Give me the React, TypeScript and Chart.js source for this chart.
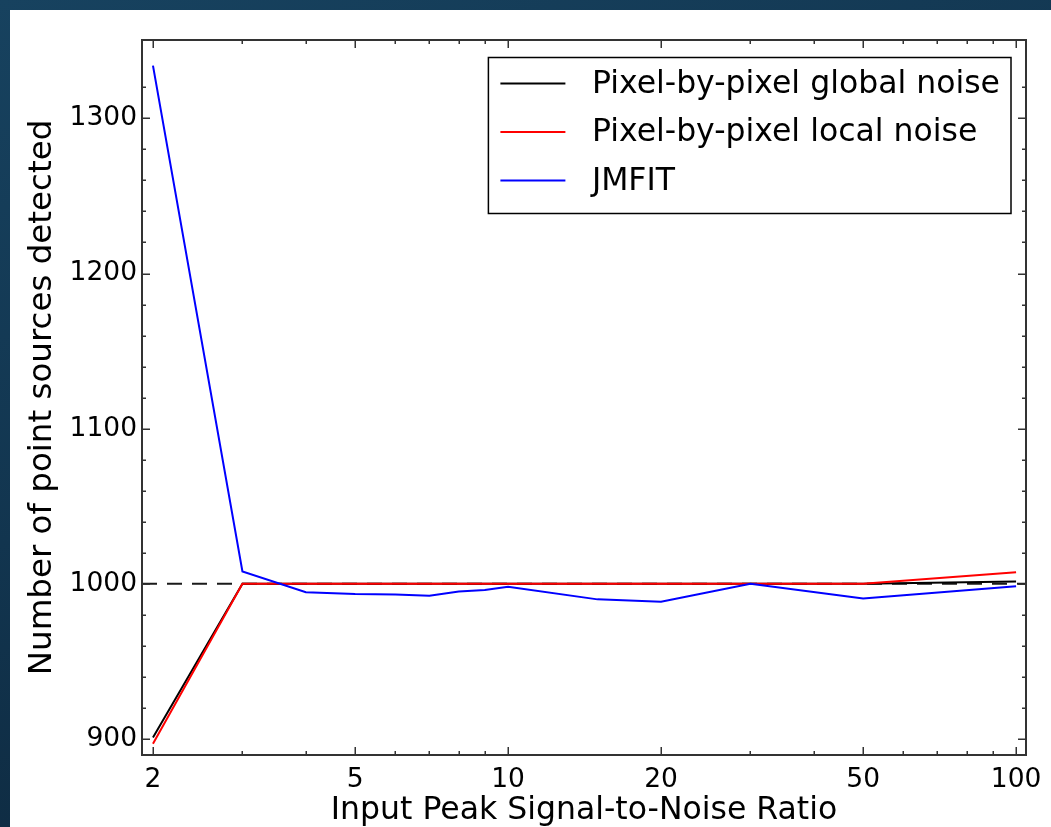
import React, { useEffect, useRef } from "react";
import { Chart, registerables } from "chart.js";

Chart.register(...registerables);

// Input peak signal-to-noise ratios of the injected point sources
const snrValues = [2, 3, 4, 5, 6, 7, 8, 9, 10, 15, 20, 30, 50, 100];

// Number of point sources detected by each method
const globalNoiseCounts = [901, 1000, 1000, 1000, 1000, 1000, 1000, 1000, 1000, 1000, 1000, 1000, 1000, 1001.5];
const localNoiseCounts = [897, 1000, 1000, 1000, 1000, 1000, 1000, 1000, 1000, 1000, 1000, 1000, 1000, 1007.5];
const jmfitCounts = [1334, 1008, 994.6, 993.5, 993.2, 992.4, 995, 996, 998.2, 990, 988.5, 1000, 990.5, 998.5];

const seriesLabels = ["Pixel-by-pixel global noise", "Pixel-by-pixel local noise", "JMFIT"];
const seriesColors = ["#000000", "#ff0000", "#0000ff"];

// Injected number of sources (dashed reference)
const trueSourceCount = 1000;

// Axis ticks
const xTickValues = [2, 3, 4, 5, 6, 7, 8, 9, 10, 20, 30, 40, 50, 60, 70, 80, 90, 100];
const xLabelValues = [2, 5, 10, 20, 50, 100];
const yTickValues = [900, 920, 940, 960, 980, 1000, 1020, 1040, 1060, 1080, 1100, 1120, 1140, 1160, 1180, 1200, 1220, 1240, 1260, 1280, 1300, 1320];
const yLabelValues = [900, 1000, 1100, 1200, 1300];

const FONT = '"DejaVu Sans", "Liberation Sans", sans-serif';
const AXIS_COLOR = "#333333";
const LEGEND_FONT_SIZE = 31.5;

const framePlugin = {
  id: "mplFrame",
  beforeDatasetsDraw(chart: any) {
    const { ctx, chartArea: a, scales } = chart;
    const yy = scales.y.getPixelForValue(trueSourceCount);
    ctx.save();
    ctx.beginPath();
    ctx.rect(a.left, a.top, a.right - a.left, a.bottom - a.top);
    ctx.clip();
    ctx.setLineDash([15, 10]);
    ctx.strokeStyle = "#1a1a1a";
    ctx.lineWidth = 2;
    ctx.beginPath();
    ctx.moveTo(a.left, yy);
    ctx.lineTo(a.right, yy);
    ctx.stroke();
    ctx.restore();
  },
  afterDraw(chart: any) {
    const { ctx, chartArea: a, scales } = chart;
    ctx.save();
    // inward tick marks on all four sides
    ctx.strokeStyle = AXIS_COLOR;
    ctx.lineWidth = 1.5;
    ctx.beginPath();
    xTickValues.forEach((v) => {
      const px = Math.round(scales.x.getPixelForValue(v)) + 0.25;
      const len = xLabelValues.includes(v) ? 8 : 4;
      ctx.moveTo(px, a.bottom);
      ctx.lineTo(px, a.bottom - len);
      ctx.moveTo(px, a.top);
      ctx.lineTo(px, a.top + len);
    });
    yTickValues.forEach((v) => {
      const py = Math.round(scales.y.getPixelForValue(v)) + 0.25;
      const len = yLabelValues.includes(v) ? 8 : 4;
      ctx.moveTo(a.left, py);
      ctx.lineTo(a.left + len, py);
      ctx.moveTo(a.right, py);
      ctx.lineTo(a.right - len, py);
    });
    ctx.stroke();
    // axes frame
    ctx.lineWidth = 2;
    ctx.strokeRect(a.left, a.top, a.right - a.left, a.bottom - a.top);

    // legend box in the upper right corner
    ctx.font = `${LEGEND_FONT_SIZE}px ${FONT}`;
    const textWidths = chart.data.datasets.map((d: any) => ctx.measureText(d.label).width);
    const maxText = Math.max(...textWidths);
    const boxRight = a.right - 15;
    const boxLeft = boxRight - (maxText + 103.5 + 11);
    const boxTop = a.top + 17.5;
    const rowGap = 48.5;
    const boxBottom = boxTop + 26 + rowGap * 2 + 33;
    ctx.fillStyle = "#ffffff";
    ctx.fillRect(boxLeft, boxTop, boxRight - boxLeft, boxBottom - boxTop);
    ctx.strokeStyle = "#000000";
    ctx.lineWidth = 1.5;
    ctx.strokeRect(boxLeft, boxTop, boxRight - boxLeft, boxBottom - boxTop);
    chart.data.datasets.forEach((d: any, i: number) => {
      const ry = boxTop + 26 + rowGap * i;
      ctx.strokeStyle = d.borderColor;
      ctx.lineWidth = 2;
      ctx.beginPath();
      ctx.moveTo(boxLeft + 12, ry);
      ctx.lineTo(boxLeft + 77, ry);
      ctx.stroke();
      ctx.fillStyle = "#000000";
      ctx.textBaseline = "middle";
      ctx.textAlign = "left";
      ctx.fillText(d.label, boxLeft + 103.5, ry + 1);
    });
    ctx.restore();
  },
};

export default function App() {
  const canvasRef = useRef<HTMLCanvasElement>(null);

  useEffect(() => {
    const canvas = canvasRef.current;
    if (!canvas) return;
    const series = [globalNoiseCounts, localNoiseCounts, jmfitCounts];
    const chart = new Chart(canvas, {
      type: "line",
      data: {
        datasets: series.map((values, i) => ({
          label: seriesLabels[i],
          data: snrValues.map((x, j) => ({ x, y: values[j] })),
          borderColor: seriesColors[i],
          backgroundColor: seriesColors[i],
          borderWidth: 2,
          pointRadius: 0,
          tension: 0,
          fill: false,
          order: 3 - i,
        })),
      },
      options: {
        responsive: false,
        animation: false,
        events: [],
        layout: { padding: { left: 0, top: 40, right: 25, bottom: 0 } },
        plugins: {
          legend: { display: false },
          tooltip: { enabled: false },
        },
        scales: {
          x: {
            type: "logarithmic",
            min: 1.903,
            max: 104.6,
            grid: { display: false, drawTicks: false },
            border: { display: false },
            afterBuildTicks: (s: any) => {
              s.ticks = xTickValues.map((v) => ({ value: v }));
            },
            afterFit: (s: any) => {
              s.height = 72;
            },
            ticks: {
              autoSkip: false,
              maxRotation: 0,
              minRotation: 0,
              padding: 9,
              color: "#000000",
              font: { family: FONT, size: 26.5 },
              callback: (v: any) => (xLabelValues.includes(Number(v)) ? String(v) : ""),
            },
            title: {
              display: true,
              text: "Input Peak Signal-to-Noise Ratio",
              color: "#000000",
              font: { family: FONT, size: 31.5, lineHeight: 1 },
              padding: { top: 0, bottom: 0.5 },
            },
          },
          y: {
            type: "linear",
            min: 889.7,
            max: 1350.5,
            grid: { display: false, drawTicks: false },
            border: { display: false },
            afterBuildTicks: (s: any) => {
              s.ticks = yTickValues.map((v) => ({ value: v }));
            },
            afterFit: (s: any) => {
              s.width = 142;
            },
            ticks: {
              autoSkip: false,
              padding: 5,
              color: "#000000",
              font: { family: FONT, size: 26.5 },
              callback: (v: any) => (yLabelValues.includes(Number(v)) ? String(v) : ""),
            },
            title: {
              display: true,
              text: "Number of point sources detected",
              color: "#000000",
              font: { family: FONT, size: 32.5, lineHeight: 1 },
              padding: { top: 26.5, bottom: 0 },
            },
          },
        },
      },
      plugins: [framePlugin],
    });
    return () => chart.destroy();
  }, []);

  return (
    <div
      style={{
        position: "fixed",
        left: 0,
        top: 0,
        width: 1051,
        height: 827,
        overflow: "hidden",
        background: "linear-gradient(160deg, #17425f 0%, #12354f 45%, #0b2236 100%)",
      }}
    >
      <div style={{ position: "absolute", left: 10, top: 10, right: 0, bottom: 0, background: "#ffffff" }} />
      <canvas
        ref={canvasRef}
        width={1051}
        height={827}
        style={{ position: "absolute", left: 0, top: 0, width: 1051, height: 827 }}
      />
    </div>
  );
}
